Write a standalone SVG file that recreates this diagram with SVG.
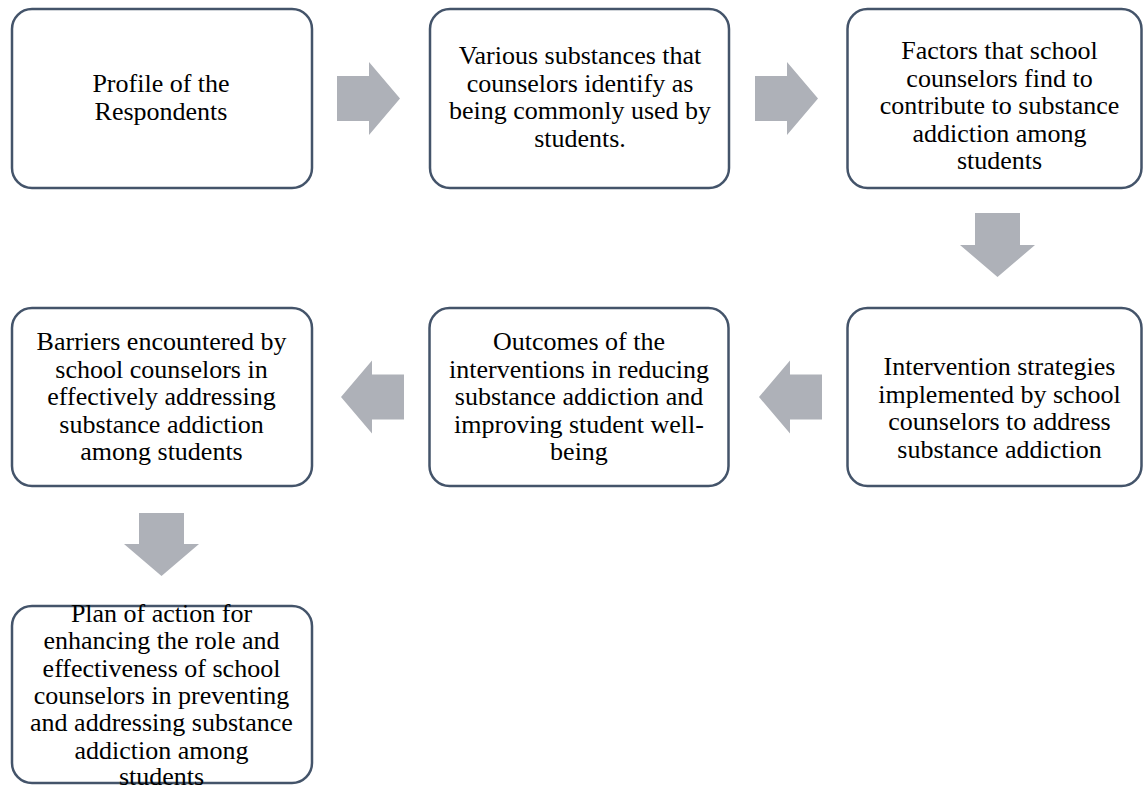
<svg xmlns="http://www.w3.org/2000/svg" width="1143" height="785" viewBox="0 0 1143 785">
<style>
.box{fill:#ffffff;stroke:#44546a;stroke-width:2.5}
.arrow{fill:#aeb1b8;stroke:none}
</style>
<rect width="1143" height="785" fill="#ffffff"/>
<g id="connectors">
<polygon class="arrow" points="337,76 369,76 369,62 400,98.5 369,135 369,121 337,121"/>
<polygon class="arrow" points="755,76 787,76 787,62 818,98.5 787,135 787,121 755,121"/>
<polygon class="arrow" points="975,213 1020,213 1020,245 1035,245 997.5,277 960,245 975,245"/>
<polygon class="arrow" points="822,374.5 790,374.5 790,360.5 759,397 790,433.5 790,419.5 822,419.5"/>
<polygon class="arrow" points="404,374.5 372,374.5 372,360.5 341,397 372,433.5 372,419.5 404,419.5"/>
<polygon class="arrow" points="139,513 184,513 184,544 199,544 161.5,576 124,544 139,544"/>
</g>
<g id="node1">
<rect class="box" x="12" y="9" width="300" height="179" rx="20"/>
<text font-family="Liberation Serif" font-size="26" text-anchor="middle" x="161" y="92">Profile of the</text>
<text font-family="Liberation Serif" font-size="26" text-anchor="middle" x="161" y="119.5">Respondents</text>
</g>
<g id="node2">
<rect class="box" x="430" y="9" width="299" height="179" rx="20"/>
<text font-family="Liberation Serif" font-size="26" text-anchor="middle" x="580" y="64">Various substances that</text>
<text font-family="Liberation Serif" font-size="26" text-anchor="middle" x="580" y="91.6">counselors identify as</text>
<text font-family="Liberation Serif" font-size="26" text-anchor="middle" x="580" y="119.2">being commonly used by</text>
<text font-family="Liberation Serif" font-size="26" text-anchor="middle" x="580" y="146.8">students.</text>
</g>
<g id="node3">
<rect class="box" x="847.5" y="9" width="294" height="179" rx="20"/>
<text font-family="Liberation Serif" font-size="26" text-anchor="middle" x="999.5" y="59">Factors that school</text>
<text font-family="Liberation Serif" font-size="26" text-anchor="middle" x="999.5" y="86.6">counselors find to</text>
<text font-family="Liberation Serif" font-size="26" text-anchor="middle" x="999.5" y="114.2">contribute to substance</text>
<text font-family="Liberation Serif" font-size="26" text-anchor="middle" x="999.5" y="141.8">addiction among</text>
<text font-family="Liberation Serif" font-size="26" text-anchor="middle" x="999.5" y="169.4">students</text>
</g>
<g id="node4">
<rect class="box" x="847.5" y="308" width="294" height="178" rx="20"/>
<text font-family="Liberation Serif" font-size="26" text-anchor="middle" x="999.5" y="375">Intervention strategies</text>
<text font-family="Liberation Serif" font-size="26" text-anchor="middle" x="999.5" y="402.6">implemented by school</text>
<text font-family="Liberation Serif" font-size="26" text-anchor="middle" x="999.5" y="430.2">counselors to address</text>
<text font-family="Liberation Serif" font-size="26" text-anchor="middle" x="999.5" y="457.8">substance addiction</text>
</g>
<g id="node5">
<rect class="box" x="429.5" y="308" width="299" height="178" rx="20"/>
<text font-family="Liberation Serif" font-size="26" text-anchor="middle" x="579" y="350">Outcomes of the</text>
<text font-family="Liberation Serif" font-size="26" text-anchor="middle" x="579" y="377.6">interventions in reducing</text>
<text font-family="Liberation Serif" font-size="26" text-anchor="middle" x="579" y="405.2">substance addiction and</text>
<text font-family="Liberation Serif" font-size="26" text-anchor="middle" x="579" y="432.8">improving student well-</text>
<text font-family="Liberation Serif" font-size="26" text-anchor="middle" x="579" y="460.4">being</text>
</g>
<g id="node6">
<rect class="box" x="12" y="308" width="300" height="178" rx="20"/>
<text font-family="Liberation Serif" font-size="26" text-anchor="middle" x="161.5" y="350">Barriers encountered by</text>
<text font-family="Liberation Serif" font-size="26" text-anchor="middle" x="161.5" y="377.5">school counselors in</text>
<text font-family="Liberation Serif" font-size="26" text-anchor="middle" x="161.5" y="405">effectively addressing</text>
<text font-family="Liberation Serif" font-size="26" text-anchor="middle" x="161.5" y="432.5">substance addiction</text>
<text font-family="Liberation Serif" font-size="26" text-anchor="middle" x="161.5" y="460">among students</text>
</g>
<g id="node7">
<rect class="box" x="12" y="606" width="300" height="177" rx="20"/>
<text font-family="Liberation Serif" font-size="26" text-anchor="middle" x="161.5" y="622">Plan of action for</text>
<text font-family="Liberation Serif" font-size="26" text-anchor="middle" x="161.5" y="649.3">enhancing the role and</text>
<text font-family="Liberation Serif" font-size="26" text-anchor="middle" x="161.5" y="676.6">effectiveness of school</text>
<text font-family="Liberation Serif" font-size="26" text-anchor="middle" x="161.5" y="703.9">counselors in preventing</text>
<text font-family="Liberation Serif" font-size="26" text-anchor="middle" x="161.5" y="731.2">and addressing substance</text>
<text font-family="Liberation Serif" font-size="26" text-anchor="middle" x="161.5" y="758.5">addiction among</text>
<text font-family="Liberation Serif" font-size="26" text-anchor="middle" x="161.5" y="784.5">students</text>
</g>
</svg>
